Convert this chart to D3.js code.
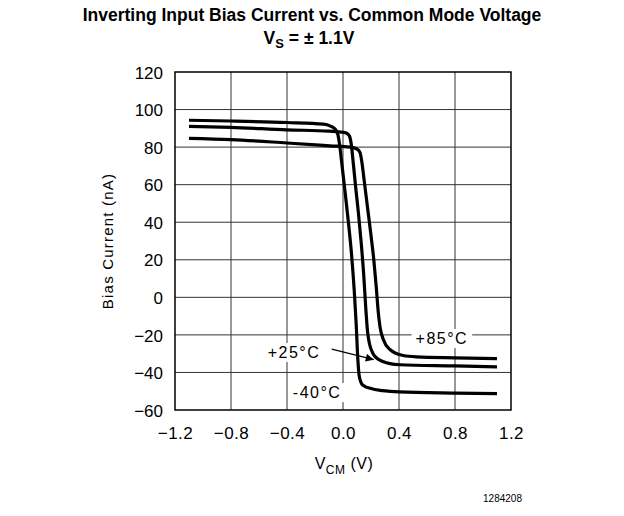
<!DOCTYPE html>
<html>
<head>
<meta charset="utf-8">
<script src="https://cdn.jsdelivr.net/npm/d3@7"></script>
<style>
  html, body { margin: 0; padding: 0; background: #fff; }
  svg { display: block; }
  text { font-family: "Liberation Sans", Arial, sans-serif; fill: #000; }
</style>
</head>
<body>
<svg id="chart" width="624" height="516"></svg>
<script>
// Common-mode voltage (V) and inverting input bias current (nA) per temperature
const vMinus40 = [-1.1, -0.8, -0.4, -0.14, -0.09, -0.055, -0.036, -0.022, -0.008, 0.015, 0.04, 0.062, 0.08, 0.094, 0.106, 0.115, 0.13, 0.143, 0.2, 0.285, 0.4, 0.8, 1.1];
const iMinus40 = [94.3, 93.9, 93.1, 92.2, 91.2, 89.5, 86.5, 80, 71, 56, 39, 22, 4, -14, -33, -41.5, -45.5, -46.8, -48.6, -49.7, -50.4, -51, -51.3];

const vPlus25 = [-1.1, -0.8, -0.4, -0.1, -0.045, 0.0, 0.026, 0.045, 0.058, 0.07, 0.09, 0.11, 0.13, 0.148, 0.163, 0.175, 0.19, 0.215, 0.24, 0.28, 0.335, 0.406, 0.8, 1.1];
const iPlus25 = [91, 90.5, 89.2, 88.5, 88.2, 87.9, 87.4, 86, 82, 74, 59, 45, 29, 12, -6, -18, -25, -30, -32.3, -34, -35.3, -35.9, -36.5, -37];

const vPlus85 = [-1.1, -0.8, -0.4, -0.093, 0.05, 0.1, 0.121, 0.135, 0.15, 0.175, 0.2, 0.22, 0.238, 0.252, 0.265, 0.288, 0.335, 0.43, 0.525, 0.8, 1.1];
const iPlus85 = [84.7, 84, 82.2, 80.7, 80, 79, 77.2, 72, 63, 48, 33, 20, 5, -8, -16, -22.5, -27.8, -31, -31.7, -32.2, -32.6];

const xTicks = [-1.2, -0.8, -0.4, 0.0, 0.4, 0.8, 1.2];
const yTicks = [-60, -40, -20, 0, 20, 40, 60, 80, 100, 120];

const seriesLabels = ["-40°C", "+25°C", "+85°C"];
// label anchor points in data units (V, nA)
const labelV = [-0.185, -0.35, 0.706];
const labelI = [-50.6, -29.2, -21.8];
// pointer arrow for the +25°C label (data units)
const arrowV = [-0.08, 0.22];
const arrowI = [-27.6, -33.2];

const svg = d3.select("#chart");
const plot = { left: 175, right: 511, top: 72, bottom: 410 };

const x = d3.scaleLinear().domain([-1.2, 1.2]).range([plot.left, plot.right]);
const y = d3.scaleLinear().domain([-60, 120]).range([plot.bottom, plot.top]);

const fmt = v => {
  const s = Math.abs(v).toFixed(1);
  return v < 0 ? "\u2212" + s : s;
};
const fmtY = v => (v < 0 ? "\u2212" + Math.abs(v) : String(v));

// Title
svg.append("text")
  .attr("x", 312).attr("y", 21)
  .attr("text-anchor", "middle")
  .style("font-size", "17.5px").style("font-weight", "bold")
  .text("Inverting Input Bias Current vs. Common Mode Voltage");

const sub = svg.append("text")
  .attr("x", 309).attr("y", 44)
  .attr("text-anchor", "middle")
  .style("font-size", "17.5px").style("font-weight", "bold");
sub.append("tspan").text("V");
sub.append("tspan").attr("dy", 4).style("font-size", "13px").text("S");
sub.append("tspan").attr("dy", -4).text(" = \u00b1 1.1V");

// Gridlines
const grid = svg.append("g");
grid.selectAll("line.gx")
  .data(xTicks.slice(1, -1))
  .join("line")
  .attr("x1", d => x(d)).attr("x2", d => x(d))
  .attr("y1", plot.top).attr("y2", plot.bottom)
  .attr("stroke", "#333").attr("stroke-width", 1);
grid.selectAll("line.gy")
  .data(yTicks.slice(1, -1))
  .join("line")
  .attr("y1", d => y(d)).attr("y2", d => y(d))
  .attr("x1", plot.left).attr("x2", plot.right)
  .attr("stroke", "#333").attr("stroke-width", 1);

// Axes (tick labels only; frame drawn separately)
const xAxis = d3.axisBottom(x).tickValues(xTicks).tickSize(0).tickPadding(0).tickFormat(fmt);
const gx = svg.append("g").attr("transform", `translate(0,${plot.bottom})`).call(xAxis);
gx.select(".domain").remove();
gx.selectAll("text")
  .attr("y", 29).attr("dy", 0)
  .style("font-size", "17px").style("letter-spacing", "0.5px")
  .style("font-family", "'Liberation Sans', Arial, sans-serif");

const yAxis = d3.axisLeft(y).tickValues(yTicks).tickSize(0).tickPadding(12).tickFormat(fmtY);
const gy = svg.append("g").attr("transform", `translate(${plot.left},0)`).call(yAxis);
gy.select(".domain").remove();
gy.selectAll("text")
  .attr("dy", "0.36em")
  .style("font-size", "17px")
  .style("font-family", "'Liberation Sans', Arial, sans-serif");

// Plot frame
svg.append("rect")
  .attr("x", plot.left).attr("y", plot.top)
  .attr("width", plot.right - plot.left).attr("height", plot.bottom - plot.top)
  .attr("fill", "none").attr("stroke", "#000").attr("stroke-width", 1.5);

// Axis titles
svg.append("text")
  .attr("transform", `translate(113,${(plot.top + plot.bottom) / 2}) rotate(-90)`)
  .attr("text-anchor", "middle")
  .style("font-size", "15px").style("letter-spacing", "1.2px")
  .text("Bias Current (nA)");

const xt = svg.append("text")
  .attr("x", 344).attr("y", 469)
  .attr("text-anchor", "middle")
  .style("font-size", "16px").style("letter-spacing", "0.5px");
xt.append("tspan").text("V");
xt.append("tspan").attr("dy", 5).style("font-size", "12px").text("CM");
xt.append("tspan").attr("dy", -5).text("  (V)");

// Curves
const line = d3.line()
  .x(d => x(d[0]))
  .y(d => y(d[1]))
  .curve(d3.curveMonotoneX);

const series = [
  d3.zip(vMinus40, iMinus40),
  d3.zip(vPlus25, iPlus25),
  d3.zip(vPlus85, iPlus85)
];

svg.append("g").selectAll("path")
  .data(series)
  .join("path")
  .attr("d", line)
  .attr("fill", "none")
  .attr("stroke", "#000")
  .attr("stroke-width", 3.2)
  .attr("stroke-linejoin", "round")
  .attr("stroke-linecap", "butt");

// Temperature labels with white backing
const lbl = svg.append("g");
seriesLabels.forEach((t, k) => {
  const g = lbl.append("g");
  const txt = g.append("text")
    .attr("x", x(labelV[k])).attr("y", y(labelI[k]))
    .attr("dy", "0.36em")
    .attr("text-anchor", "middle")
    .style("font-size", "16px").style("letter-spacing", "1.5px")
    .text(t);
  const bb = txt.node().getBBox();
  g.insert("rect", "text")
    .attr("x", bb.x - 4).attr("y", bb.y - 1)
    .attr("width", bb.width + 8).attr("height", bb.height + 2)
    .attr("fill", "#fff");
});

// Arrow pointing the +25°C label at its curve
svg.append("defs").append("marker")
  .attr("id", "arrowhead")
  .attr("viewBox", "0 0 10 10")
  .attr("refX", 10).attr("refY", 5)
  .attr("markerWidth", 10).attr("markerHeight", 8)
  .attr("markerUnits", "userSpaceOnUse")
  .attr("orient", "auto")
  .append("path")
  .attr("d", "M0,0 L10,5 L0,10 Z")
  .attr("fill", "#000");

svg.append("line")
  .attr("x1", x(arrowV[0])).attr("y1", y(arrowI[0]))
  .attr("x2", x(arrowV[1])).attr("y2", y(arrowI[1]))
  .attr("stroke", "#000").attr("stroke-width", 1.3)
  .attr("marker-end", "url(#arrowhead)");

// Figure number
svg.append("text")
  .attr("x", 522).attr("y", 502)
  .attr("text-anchor", "end")
  .style("font-size", "10px")
  .text("1284208");
</script>
</body>
</html>
